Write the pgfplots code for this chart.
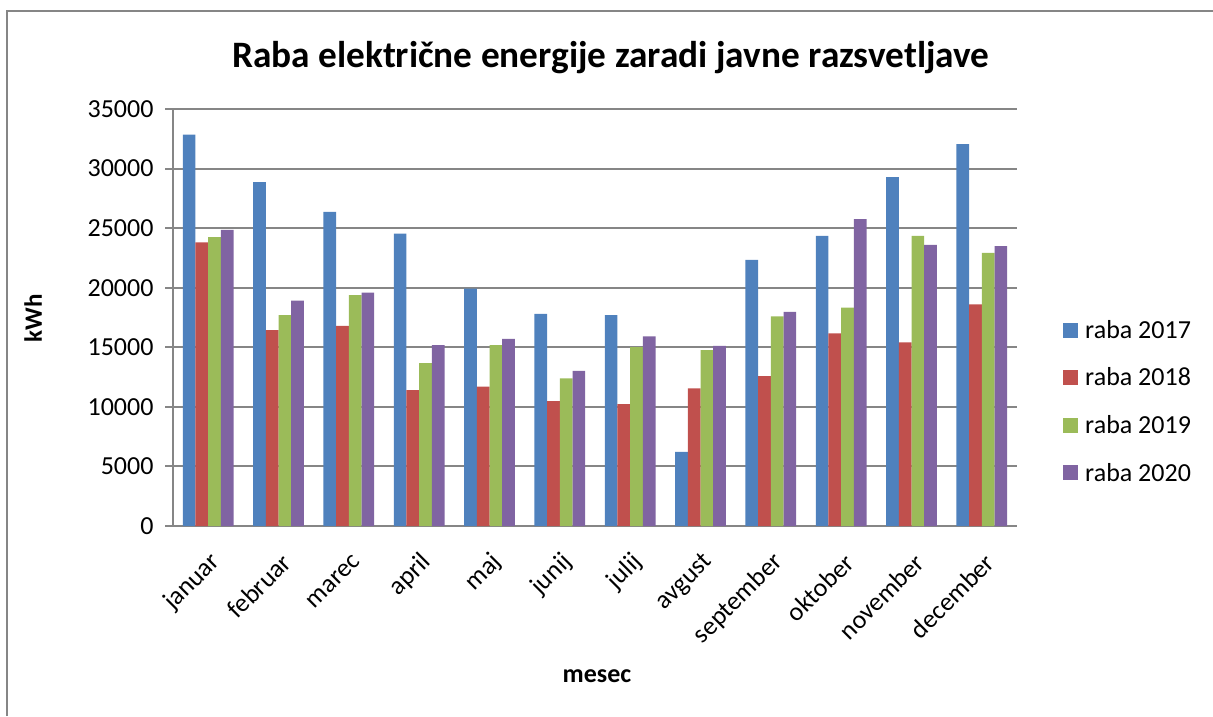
\documentclass[border=0pt]{standalone}
\usepackage{pgfplots}
\pgfplotsset{compat=1.18}
\usepackage{fontspec}
\setmainfont{Carlito}
\definecolor{c17}{HTML}{4F81BD}
\definecolor{c18}{HTML}{C0504D}
\definecolor{c19}{HTML}{9BBB59}
\definecolor{c20}{HTML}{8064A2}
\definecolor{gridc}{HTML}{868686}
\begin{document}
\begin{tikzpicture}[x=1pt,y=1pt]
\path[use as bounding box] (0,0) rectangle (1213,716);
\draw[gridc, line width=2pt] (7,0) -- (7,705) -- (1213,705);
\begin{axis}[
  at={(173pt,190pt)}, anchor=south west,
  scale only axis, width=844pt, height=417pt,
  ybar=0pt, bar width=12.7pt,
  xmin=-0.5, xmax=11.5, ymin=0, ymax=35000,
  xtick={0,...,11},
  xticklabels={januar,februar,marec,april,maj,junij,julij,avgust,september,oktober,november,december},
  ytick={0,5000,...,35000},
  yticklabels={0,5000,10000,15000,20000,25000,30000,35000},
  scaled y ticks=false,
  axis x line*=bottom, axis y line*=left,
  axis line style={gridc, line width=2pt, -},
  ymajorgrids, grid style={gridc, line width=2pt},
  major tick style={gridc, line width=2pt},
  tick align=outside,
  major tick length=8pt,
  xtick style={draw=none},
  yticklabel style={font=\fontsize{26}{30}\selectfont, xshift=-8pt},
  xticklabel style={font=\fontsize{26}{30}\selectfont, rotate=45, anchor=east, yshift=-23pt, xshift=-8pt},
  legend style={at={(1.051,0.2986)}, anchor=west, draw=none, fill=none,
    font=\fontsize{26}{30}\selectfont, row sep=28pt,
    nodes={inner sep=0pt, anchor=west}},
  legend cell align=left,
  legend image code/.code={\fill[#1] (0pt,-7.5pt) rectangle (15pt,7.5pt);},
]
\addplot[fill=c17, draw=none] coordinates {(0,32850) (1,28870) (2,26370) (3,24550) (4,19930) (5,17800) (6,17710) (7,6220) (8,22340) (9,24360) (10,29290) (11,32060)};
\addplot[fill=c18, draw=none] coordinates {(0,23800) (1,16450) (2,16790) (3,11410) (4,11690) (5,10480) (6,10230) (7,11550) (8,12580) (9,16170) (10,15420) (11,18610)};
\addplot[fill=c19, draw=none] coordinates {(0,24240) (1,17690) (2,19370) (3,13680) (4,15190) (5,12390) (6,15020) (7,14770) (8,17600) (9,18330) (10,24360) (11,22930)};
\addplot[fill=c20, draw=none] coordinates {(0,24860) (1,18920) (2,19590) (3,15190) (4,15700) (5,13030) (6,15920) (7,15110) (8,17970) (9,25760) (10,23600) (11,23490)};
\legend{\hspace{7pt}raba 2017,\hspace{7pt}raba 2018,\hspace{7pt}raba 2019,\hspace{7pt}raba 2020}
\end{axis}
\node[font=\bfseries\fontsize{37.3}{42}\selectfont, anchor=base] at (611,648) {Raba električne energije zaradi javne razsvetljave};
\node[font=\bfseries\fontsize{26}{30}\selectfont] at (597,40) {mesec};
\node[font=\bfseries\fontsize{25}{30}\selectfont, rotate=90] at (33,398) {kWh};
\end{tikzpicture}
\end{document}
